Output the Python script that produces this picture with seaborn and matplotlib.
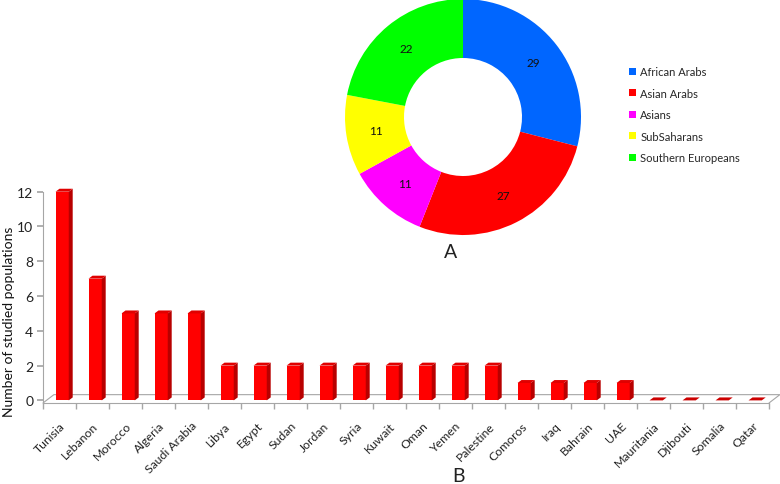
import numpy as np
import pandas as pd
import matplotlib
matplotlib.use("Agg")
import matplotlib.pyplot as plt
from matplotlib.patches import Polygon, Patch
import seaborn as sns

countries = ["Tunisia", "Lebanon", "Morocco", "Algeria", "Saudi Arabia", "Libya", "Egypt",
             "Sudan", "Jordan", "Syria", "Kuwait", "Oman", "Yemen", "Palestine", "Comoros",
             "Iraq", "Bahrain", "UAE", "Mauritania", "Djibouti", "Somalia", "Qatar"]
populations = [12, 7, 5, 5, 5, 2, 2, 2, 2, 2, 2, 2, 2, 2, 1, 1, 1, 1, 0, 0, 0, 0]
groups = ["African Arabs", "Asian Arabs", "Asians", "SubSaharans", "Southern Europeans"]
group_values = [29, 27, 11, 11, 22]
group_colors = ["#0066FF", "#FF0000", "#FF00FF", "#FFFF00", "#00FF00"]
y_ticks = [0, 2, 4, 6, 8, 10, 12]

sns.set_theme(style="white")
plt.rcParams['font.family'] = ['Lato', 'DejaVu Sans']

W, H = 780, 485
fig = plt.figure(figsize=(W / 100, H / 100), dpi=100)

# ---------------- bar chart (B) ----------------
ax = fig.add_axes([43 / W, 1 - 404 / H, (769 - 43) / W, (404 - 192.7) / H])
df = pd.DataFrame({"country": countries, "n": populations})
sns.barplot(data=df, x="country", y="n", order=countries, color="#FF0000",
            saturation=1, width=0.4, ax=ax, errorbar=None)

dx, dy = 0.12, 0.17
for p in ax.patches:
    p.set_x(p.get_x() + 0.08)
    p.set_edgecolor("none")
    p.set_clip_on(False)
    x0, w, h = p.get_x(), p.get_width(), p.get_height()
    side = Polygon([(x0 + w, 0), (x0 + w + dx, dy), (x0 + w + dx, h + dy), (x0 + w, h)],
                   closed=True, facecolor="#B80000", edgecolor="none", clip_on=False)
    top = Polygon([(x0, h), (x0 + dx, h + dy), (x0 + w + dx, h + dy), (x0 + w, h)],
                  closed=True, facecolor="#E00000" if h > 0 else "#CC0000",
                  edgecolor="none", clip_on=False)
    ax.add_patch(side)
    ax.add_patch(top)

ax.set_xlim(-0.5, len(countries) - 0.5)
ax.set_ylim(-0.15, 12)

# 3D floor outline
grey = "#A6A6A6"
fdx, fy = 0.33, 0.33
x_left, x_right = -0.5, len(countries) - 0.5
ax.plot([x_left, x_left + fdx, x_right + fdx, x_right],
        [-0.15, fy, fy, -0.15], color=grey, lw=0.8, clip_on=False, zorder=0.5)

for s in ["top", "right"]:
    ax.spines[s].set_visible(False)
for s in ["left", "bottom"]:
    ax.spines[s].set_color(grey)
    ax.spines[s].set_linewidth(0.8)

ax.set_yticks(y_ticks)
ax.set_yticklabels([str(v) for v in y_ticks], fontsize=10, color="#222222")
ax.tick_params(axis="y", which="major", left=True, length=4, color=grey, pad=3)
ax.set_xticks(range(len(countries)))
ax.set_xticklabels(countries, rotation=45, ha="right", rotation_mode="anchor",
                   fontsize=8.8, color="#222222")
ax.set_xticks(np.arange(-0.5, len(countries), 1.0), minor=True)
ax.tick_params(axis="x", which="major", bottom=False, length=0, pad=12)
ax.tick_params(axis="x", which="minor", bottom=True, length=4, color=grey)
ax.set_xlabel("")
ax.set_ylabel("")
fig.text(9 / W, 1 - 322 / H, "Number of studied populations", rotation=90,
         fontsize=10, color="#111111", ha="center", va="center")

fig.text(458 / W, 1 - 477 / H, "B", fontsize=14, ha="center", va="center", color="#222222")

# ---------------- donut chart (A) ----------------
cx, cy, r = 463, 118, 118
ax2 = fig.add_axes([(cx - r) / W, 1 - (cy + r) / H, 2 * r / W, 2 * r / H])
total = sum(group_values)
ax2.pie(group_values, colors=group_colors, startangle=90, counterclock=False,
        wedgeprops=dict(width=0.5, edgecolor="none"),
        autopct=lambda p: f"{round(p * total / 100)}", pctdistance=0.75,
        textprops=dict(fontsize=8.5, color="#111111"))
ax2.set_xlim(-1, 1)
ax2.set_ylim(-1, 1)
ax2.set_aspect("equal")

fig.text(451 / W, 1 - 253 / H, "A", fontsize=14, ha="center", va="center", color="#222222")

handles = [Patch(facecolor=c, edgecolor="none", label=g) for g, c in zip(groups, group_colors)]
fig.legend(handles=handles, loc="upper left", bbox_to_anchor=(629 / W, 1 - 67 / H),
           frameon=False, fontsize=8, handlelength=0.6, handleheight=0.6,
           handletextpad=0.4, labelspacing=0.95, borderpad=0, borderaxespad=0)

fig.savefig("out.png", dpi=100)
